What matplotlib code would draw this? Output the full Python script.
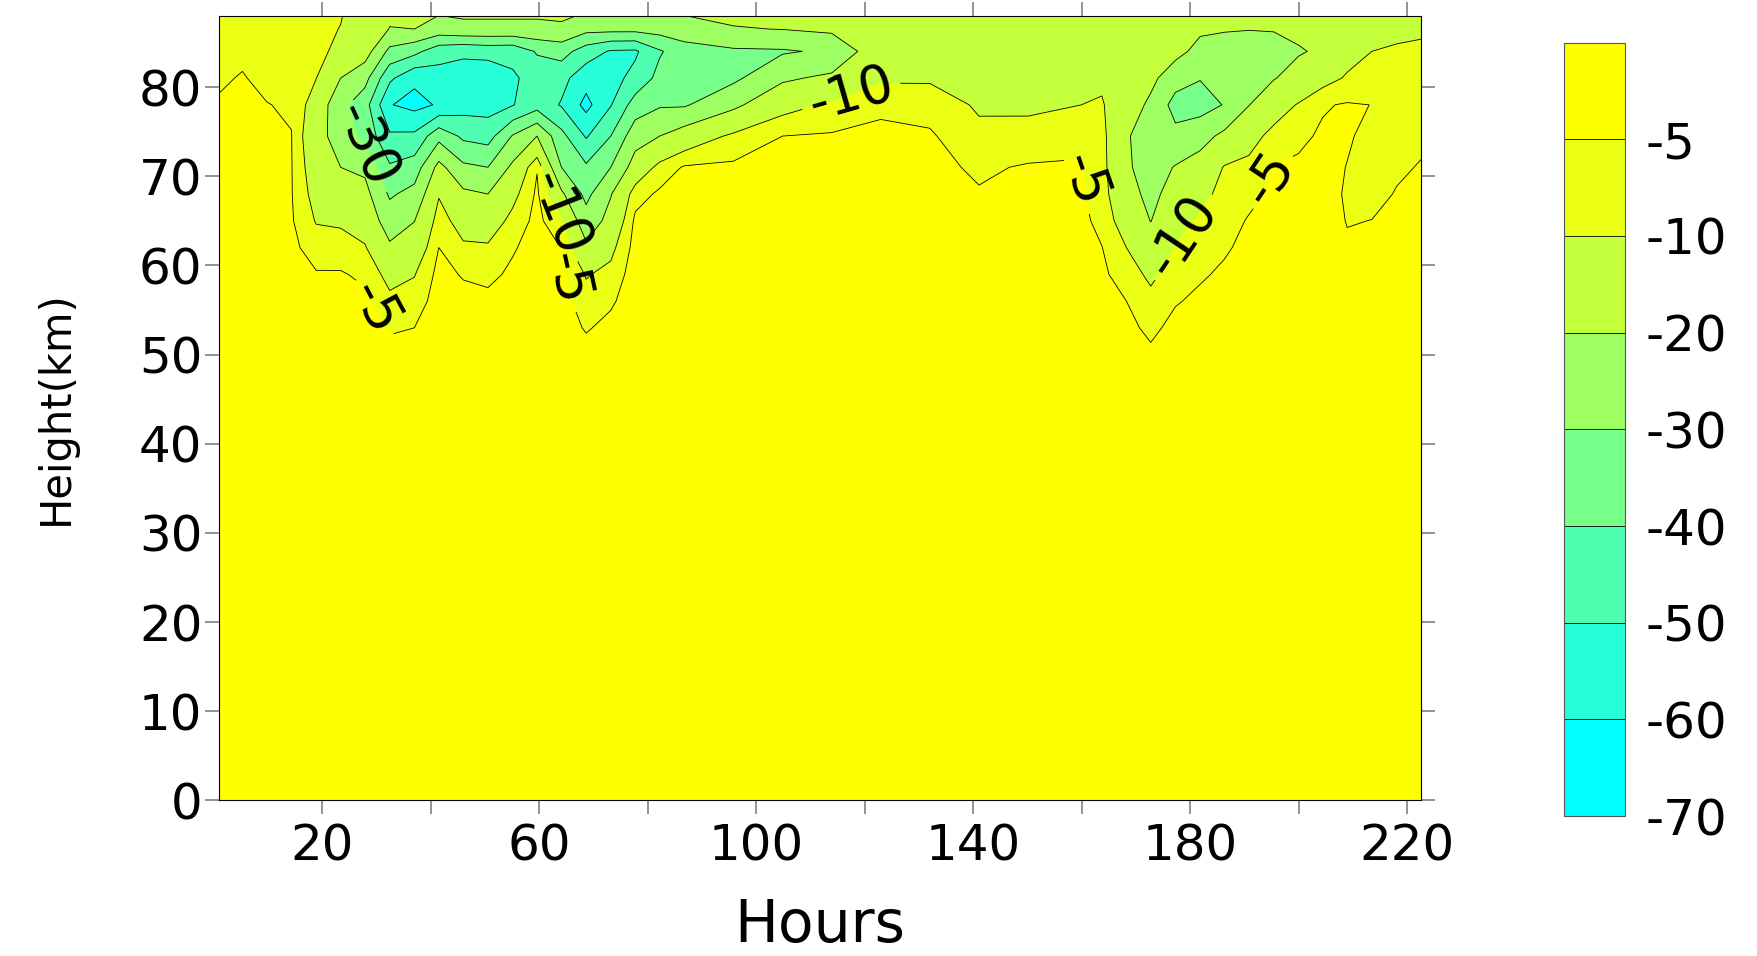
import sys
import numpy as np
import matplotlib
matplotlib.use('Agg')
import matplotlib.pyplot as plt

# Grid: hours along x, heights (km) along y
hours = [1, 5.3, 9.8, 14.35, 18.9, 23.4, 27.9, 32.45, 37.0, 41.5, 46.0, 50.55, 55.1,
         59.6, 64.1, 68.65, 73.2, 77.7, 82.2, 86.75, 95.8, 104.85, 113.9, 122.95,
         132.0, 141.05, 150.1, 159.15, 163.7, 168.2, 172.7, 177.25, 181.8, 186.3,
         190.8, 195.35, 199.9, 204.4, 208.9, 213.45, 218.0, 222.5]
heights = [0, 46, 50, 53, 56, 59, 62, 65, 68, 71, 74.5, 78, 81, 84, 86.5, 89]

# One profile per hour, bottom to top
profiles = [
    [-1, -1.3, -1.5, -1.8, -2.1, -2.4, -2.7, -3.0, -3.3, -3.7, -4.2, -4.7, -5.4, -6.4, -7.2, -8.0],
    [-1, -1.3, -1.5, -1.7, -2.0, -2.2, -2.4, -2.6, -2.9, -3.2, -3.7, -4.3, -4.8, -5.6, -6.6, -7.5],
    [-1, -1.3, -1.5, -1.8, -2.0, -2.3, -2.5, -2.8, -3.0, -3.7, -4.4, -4.9, -5.8, -6.8, -7.7, -8.5],
    [-1, -1.2, -1.5, -2.0, -2.5, -3.2, -3.8, -4.5, -4.75, -4.8, -4.9, -5.4, -6.5, -7.6, -8.5, -9.3],
    [-1, -1.5, -2.0, -2.5, -3.5, -4.6, -7.3, -10.4, -12.5, -14.3, -16.2, -13.5, -9.9, -9.3, -9.1, -8.9],
    [-1, -1.5, -2.0, -2.6, -3.5, -4.6, -7.4, -11.0, -15.5, -20.0, -24.5, -27.0, -20.0, -10.7, -10.1, -9.6],
    [-1, -1.5, -2.0, -2.8, -4.0, -5.9, -9.5, -13.2, -16.9, -22.0, -33.0, -36.0, -26.7, -15.5, -13.3, -12.0],
    [-1, -2.0, -3.0, -5.7, -8.5, -12.3, -18.5, -25.0, -31.3, -38.8, -48.6, -59.5, -48.0, -32.5, -20.3, -17.5],
    [-1, -2.0, -3.0, -5.0, -7.5, -10.3, -15.2, -20.2, -26.9, -35.2, -48.0, -63.0, -58.0, -37.0, -20.0, -17.5],
    [-1, -1.5, -2.0, -2.3, -2.8, -3.5, -5.0, -7.3, -10.5, -17.0, -33.0, -59.0, -54.0, -46.0, -24.0, -17.5],
    [-1, -1.5, -2.0, -2.6, -3.5, -5.4, -9.0, -13.0, -18.0, -28.0, -42.0, -54.0, -55.0, -48.0, -22.0, -17.5],
    [-1, -1.5, -2.0, -2.6, -3.8, -6.2, -9.2, -14.0, -20.0, -30.0, -44.0, -54.0, -57.0, -46.5, -22.0, -17.5],
    [-1, -1.5, -2.0, -2.4, -3.0, -4.1, -5.5, -8.2, -12.0, -18.0, -29.3, -50.5, -51.5, -47.0, -22.0, -17.5],
    [-1, -1.3, -1.5, -1.8, -2.1, -2.5, -3.0, -3.5, -4.1, -5.3, -20.0, -44.0, -46.0, -39.0, -22.0, -17.5],
    [-1, -1.5, -2.0, -2.4, -3.0, -3.8, -5.1, -9.3, -18.3, -30.0, -37.0, -50.8, -47.0, -36.0, -21.5, -17.0],
    [-1, -2.0, -3.0, -5.5, -7.8, -10.5, -18.2, -25.9, -32.7, -38.5, -51.0, -63.0, -56.0, -45.0, -27.0, -18.0],
    [-1, -1.5, -2.2, -3.5, -5.8, -8.3, -11.7, -16.7, -20.5, -30.0, -40.0, -50.5, -53.5, -51.0, -27.0, -18.0],
    [-1, -1.3, -1.5, -1.8, -2.1, -2.5, -3.2, -4.0, -7.0, -15.7, -24.0, -35.5, -47.0, -51.5, -27.0, -18.0],
    [-1, -1.3, -1.5, -1.7, -2.0, -2.4, -3.0, -3.6, -4.2, -8.0, -20.0, -31.0, -37.0, -41.0, -26.0, -18.0],
    [-1, -1.2, -1.4, -1.6, -1.9, -2.2, -2.7, -3.2, -3.8, -4.5, -15.0, -31.0, -35.5, -34.5, -24.0, -17.5],
    [-1, -1.2, -1.4, -1.6, -1.9, -2.2, -2.6, -3.0, -3.5, -4.1, -8.7, -22.0, -32.0, -31.5, -20.5, -17.0],
    [-1, -1.1, -1.3, -1.5, -1.8, -2.1, -2.5, -2.9, -3.4, -4.0, -5.0, -12.5, -21.5, -31.0, -19.8, -16.5],
    [-1, -1.1, -1.2, -1.4, -1.7, -2.0, -2.4, -2.8, -3.3, -3.8, -4.5, -9.0, -18.0, -28.5, -18.0, -15.5],
    [-1, -1.0, -1.2, -1.4, -1.6, -1.9, -2.2, -2.6, -3.0, -3.5, -4.2, -5.7, -11.0, -12.5, -13.0, -13.0],
    [-1, -1.0, -1.2, -1.4, -1.6, -1.9, -2.2, -2.6, -3.0, -3.6, -4.4, -6.8, -10.8, -12.0, -12.5, -13.0],
    [-1, -1.0, -1.2, -1.5, -2.0, -2.6, -3.3, -4.0, -4.6, -5.8, -8.6, -10.8, -11.6, -12.2, -12.6, -13.0],
    [-1, -1.0, -1.2, -1.4, -1.7, -2.1, -2.5, -3.0, -3.8, -4.5, -8.4, -10.9, -11.5, -12.0, -12.5, -13.0],
    [-1, -1.0, -1.2, -1.5, -1.8, -2.2, -2.7, -3.2, -3.8, -4.5, -6.5, -10.1, -11.3, -12.0, -12.5, -13.0],
    [-1, -1.5, -2.0, -2.5, -3.2, -4.0, -4.9, -6.5, -7.5, -7.8, -8.0, -9.5, -11.0, -12.0, -12.5, -13.0],
    [-1, -2.0, -2.8, -3.6, -5.0, -7.5, -10.0, -13.5, -16.5, -18.5, -19.0, -14.5, -14.8, -14.5, -14.0, -14.0],
    [-1, -2.5, -4.0, -6.2, -8.5, -11.2, -15.5, -20.2, -22.5, -24.5, -25.0, -22.0, -17.5, -16.5, -15.5, -15.0],
    [-1, -1.8, -2.5, -3.5, -5.4, -7.6, -9.8, -12.9, -16.2, -19.4, -27.5, -33.5, -26.0, -17.0, -15.8, -15.0],
    [-1, -1.5, -2.0, -2.8, -4.0, -5.6, -7.4, -9.1, -11.8, -16.0, -23.5, -34.0, -29.6, -23.0, -18.5, -17.0],
    [-1, -1.3, -1.7, -2.2, -3.0, -4.2, -5.6, -6.9, -8.2, -9.5, -17.7, -29.5, -27.0, -23.0, -19.5, -18.0],
    [-1, -1.2, -1.5, -1.9, -2.4, -3.0, -3.7, -4.6, -6.3, -8.4, -12.6, -20.2, -25.5, -25.0, -19.7, -18.0],
    [-1, -1.1, -1.3, -1.6, -2.0, -2.5, -3.0, -3.6, -4.2, -4.9, -8.0, -13.7, -20.5, -23.5, -19.5, -17.5],
    [-1, -1.0, -1.2, -1.5, -1.8, -2.2, -2.6, -3.1, -3.7, -4.3, -5.9, -9.5, -16.5, -20.8, -18.0, -17.0],
    [-1, -1.0, -1.1, -1.3, -1.6, -2.0, -2.4, -2.8, -3.3, -3.8, -4.4, -5.4, -12.5, -18.6, -17.0, -16.0],
    [-1, -1.5, -2.0, -2.5, -3.0, -3.7, -4.4, -5.2, -5.5, -5.1, -4.6, -4.6, -9.3, -12.5, -13.5, -14.0],
    [-1, -1.5, -2.0, -2.5, -3.0, -3.6, -4.2, -4.95, -6.0, -6.3, -6.0, -5.05, -7.5, -10.0, -11.5, -12.5],
    [-1, -1.5, -2.0, -2.4, -2.8, -3.3, -3.8, -4.3, -4.8, -5.5, -6.2, -7.0, -8.0, -9.6, -10.8, -12.0],
    [-1, -1.5, -2.0, -2.3, -2.7, -3.1, -3.6, -4.0, -4.4, -4.8, -5.6, -6.6, -7.7, -9.4, -10.5, -11.5],
]

levels = [-70, -60, -50, -40, -30, -20, -10, -5, 0]
band_colors = ['#00FFFF', '#27FFD8', '#4EFFB1', '#76FF89',
               '#9DFF62', '#C4FF3B', '#EBFF14', '#FFFF00']
cbar_labels = ['-70', '-60', '-50', '-40', '-30', '-20', '-10', '-5']
plain_levels = [-60, -50, -40, -20]
labelled_levels = [-30, -10, -5]

# Where the inline contour labels go (hour, km)
label_spots = [(28.0, 73.5), (30.4, 55.4), (62.5, 65.4), (65.0, 58.5),
               (117.6, 79.0), (160.2, 69.6), (178.6, 63.2), (194.3, 69.8)]

x_ticks = [20, 40, 60, 80, 100, 120, 140, 160, 180, 200, 220]
x_ticklabels = ['20', '', '60', '', '100', '', '140', '', '180', '', '220']
y_ticks = [0, 10, 20, 30, 40, 50, 60, 70, 80]


def main():
    plt.rcParams['font.family'] = ['DejaVu Sans']
    values = np.array(profiles).T

    fig = plt.figure(figsize=(17.58, 9.56), dpi=100)
    ax = fig.add_axes([0.1246, 0.1627, 0.6837, 0.8209])

    filled = ax.contourf(hours, heights, values, levels=levels, colors=band_colors)
    plain = ax.contour(hours, heights, values, levels=plain_levels,
                       colors='black', linewidths=0.6, linestyles='solid')
    labelled = ax.contour(hours, heights, values, levels=labelled_levels,
                          colors='black', linewidths=0.6, linestyles='solid')
    ax.clabel(labelled, manual=label_spots, inline=True, inline_spacing=8,
              fontsize=38, colors='black', fmt=lambda v: '%d' % v)

    ax.set_xlim(1, 222.5)
    ax.set_ylim(0, 88)
    ax.set_xticks(x_ticks)
    ax.set_xticklabels(x_ticklabels)
    ax.set_yticks(y_ticks)
    ax.tick_params(direction='out', length=10, width=1.2, color='#808080',
                   top=True, right=True, labelsize=36)
    ax.tick_params(axis='x', pad=6)
    ax.tick_params(axis='y', pad=2)
    for spine in ax.spines.values():
        spine.set_linewidth(0.8)

    ax.set_xlabel('Hours', fontsize=42)
    ax.set_ylabel('Height(km)', fontsize=30)
    ax.xaxis.set_label_coords(0.5, -0.123)
    ax.yaxis.set_label_coords(-0.118, 0.5)

    # Colour key with the band boundaries drawn as lines
    cax = fig.add_axes([0.8896, 0.1464, 0.0347, 0.809])
    cbar = fig.colorbar(filled, cax=cax, ticks=levels[:-1])
    cbar.ax.set_yticklabels(cbar_labels)
    cbar.ax.tick_params(length=0, labelsize=36, pad=15)
    cbar.add_lines(plain)
    cbar.add_lines(labelled, erase=False)
    cbar.outline.set_linewidth(0.8)
    cbar.outline.set_edgecolor('#555555')

    fig.savefig('out.png', dpi=100)


if __name__ == '__main__':
    sys.exit(main())
